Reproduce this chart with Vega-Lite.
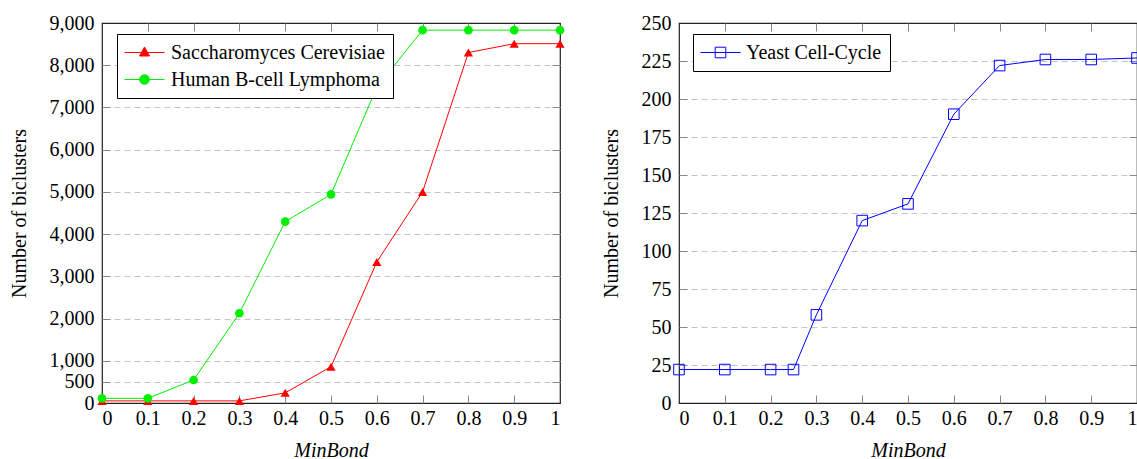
{
  "$schema": "https://vega.github.io/schema/vega-lite/v6.json",
  "background": "white",
  "padding": {"left": 8, "top": 12, "right": 0, "bottom": 0},
  "spacing": 119,
  "bounds": "flush",
  "resolve": {"scale": {"color": "independent"}, "legend": {"color": "independent"}},
  "config": {
    "font": "Liberation Serif",
    "view": {"stroke": "#222", "strokeWidth": 1.2},
    "axis": {
      "labelFont": "Liberation Serif", "labelFontSize": 20, "labelColor": "black",
      "titleFont": "Liberation Serif", "titleFontSize": 20, "titleFontWeight": "normal", "titleColor": "black",
      "tickColor": {"condition": {"test": "datum.value === 0 || datum.value === 1 || datum.value === 9000 || datum.value === 250", "value": "transparent"}, "value": "#888"},
      "tickSize": -8, "domain": false, "grid": false,
      "gridColor": "#c4c4c4", "gridDash": [6, 4], "labelPadding": 16
    },
    "legend": {
      "labelFont": "Liberation Serif", "labelFontSize": 20, "labelColor": "black", "labelLimit": 500,
      "strokeColor": "black", "fillColor": "white", "padding": 8,
      "rowPadding": 6, "symbolOffset": 9, "labelOffset": 16, "symbolSize": 400,
      "orient": "none", "title": null
    }
  },
  "datasets": {
    "left": [
      {"x": 0, "n": 50, "series": "Saccharomyces Cerevisiae"},
      {"x": 0.1, "n": 50, "series": "Saccharomyces Cerevisiae"},
      {"x": 0.2, "n": 50, "series": "Saccharomyces Cerevisiae"},
      {"x": 0.3, "n": 50, "series": "Saccharomyces Cerevisiae"},
      {"x": 0.4, "n": 240, "series": "Saccharomyces Cerevisiae"},
      {"x": 0.5, "n": 860, "series": "Saccharomyces Cerevisiae"},
      {"x": 0.6, "n": 3340, "series": "Saccharomyces Cerevisiae"},
      {"x": 0.7, "n": 5000, "series": "Saccharomyces Cerevisiae"},
      {"x": 0.8, "n": 8300, "series": "Saccharomyces Cerevisiae"},
      {"x": 0.9, "n": 8510, "series": "Saccharomyces Cerevisiae"},
      {"x": 1, "n": 8510, "series": "Saccharomyces Cerevisiae"},
      {"x": 0, "n": 110, "series": "Human B-cell Lymphoma"},
      {"x": 0.1, "n": 110, "series": "Human B-cell Lymphoma"},
      {"x": 0.2, "n": 545, "series": "Human B-cell Lymphoma"},
      {"x": 0.3, "n": 2125, "series": "Human B-cell Lymphoma"},
      {"x": 0.4, "n": 4295, "series": "Human B-cell Lymphoma"},
      {"x": 0.5, "n": 4940, "series": "Human B-cell Lymphoma"},
      {"x": 0.6, "n": 7480, "series": "Human B-cell Lymphoma"},
      {"x": 0.7, "n": 8830, "series": "Human B-cell Lymphoma"},
      {"x": 0.8, "n": 8830, "series": "Human B-cell Lymphoma"},
      {"x": 0.9, "n": 8830, "series": "Human B-cell Lymphoma"},
      {"x": 1, "n": 8830, "series": "Human B-cell Lymphoma"}
    ],
    "right": [
      {"x": 0, "n": 22, "series": "Yeast Cell-Cycle"},
      {"x": 0.1, "n": 22, "series": "Yeast Cell-Cycle"},
      {"x": 0.2, "n": 22, "series": "Yeast Cell-Cycle"},
      {"x": 0.25, "n": 22, "series": "Yeast Cell-Cycle"},
      {"x": 0.3, "n": 58, "series": "Yeast Cell-Cycle"},
      {"x": 0.4, "n": 120, "series": "Yeast Cell-Cycle"},
      {"x": 0.5, "n": 131, "series": "Yeast Cell-Cycle"},
      {"x": 0.6, "n": 190, "series": "Yeast Cell-Cycle"},
      {"x": 0.7, "n": 222, "series": "Yeast Cell-Cycle"},
      {"x": 0.8, "n": 226, "series": "Yeast Cell-Cycle"},
      {"x": 0.9, "n": 226, "series": "Yeast Cell-Cycle"},
      {"x": 1, "n": 227, "series": "Yeast Cell-Cycle"}
    ]
  },
  "hconcat": [
    {
      "width": 458, "height": 380,
      "data": {"name": "left"},
      "resolve": {"axis": {"x": "independent", "y": "independent"}},
      "layer": [
        {
          "mark": {"type": "line", "strokeWidth": 1},
          "encoding": {
            "x": {"field": "x", "type": "quantitative", "scale": {"domain": [0, 1], "nice": false},
              "axis": {"values": [0, 0.1, 0.2, 0.3, 0.4, 0.5, 0.6, 0.7, 0.8, 0.9, 1], "format": "~g", "labelPadding": 13,
                "title": "MinBond", "titleFontStyle": "italic", "titlePadding": 12}},
            "y": {"field": "n", "type": "quantitative", "scale": {"domain": [0, 9000], "nice": false},
              "axis": {"values": [0, 500, 1000, 2000, 3000, 4000, 5000, 6000, 7000, 8000, 9000], "format": ",d",
                "title": "Number of biclusters", "titlePadding": 20}},
            "color": {"field": "series", "type": "nominal",
              "scale": {"domain": ["Saccharomyces Cerevisiae", "Human B-cell Lymphoma"], "range": ["#ff0000", "#00f000"]},
              "legend": {"legendX": 15, "legendY": 11,
                "encode": {"symbols": {"update": {
                  "shape": {"signal": "datum.value === 'Saccharomyces Cerevisiae' ? 'M-2,0L2,0M0,-0.55L0.5,0.35L-0.5,0.35Z' : 'M-2,0L2,0M0.48,0A0.48,0.48,0,1,1,-0.48,0A0.48,0.48,0,1,1,0.48,0Z'"},
                  "fill": {"signal": "datum.value === 'Saccharomyces Cerevisiae' ? '#ff0000' : '#00f000'"},
                  "stroke": {"signal": "datum.value === 'Saccharomyces Cerevisiae' ? '#ff0000' : '#00f000'"},
                  "strokeWidth": {"value": 1},
                  "opacity": {"value": 1},
                  "size": {"value": 400}
                }}}}}
          }
        },
        {
          "transform": [{"filter": "datum.series === 'Saccharomyces Cerevisiae'"}],
          "mark": {"type": "point", "shape": "triangle-up", "filled": true, "opacity": 1, "size": 85, "color": "#ff0000"},
          "encoding": {
            "x": {"field": "x", "type": "quantitative",
              "axis": {"orient": "top", "values": [0.1, 0.2, 0.3, 0.4, 0.5, 0.6, 0.7, 0.8, 0.9], "labels": false, "title": null}},
            "y": {"field": "n", "type": "quantitative",
              "axis": {"orient": "right", "values": [500, 1000, 2000, 3000, 4000, 5000, 6000, 7000, 8000], "labels": false, "grid": true, "title": null}}
          }
        },
        {
          "transform": [{"filter": "datum.series === 'Human B-cell Lymphoma'"}],
          "mark": {"type": "point", "shape": "circle", "filled": true, "opacity": 1, "size": 75, "color": "#00f000"},
          "encoding": {
            "x": {"field": "x", "type": "quantitative", "axis": null},
            "y": {"field": "n", "type": "quantitative", "axis": null}
          }
        }
      ]
    },
    {
      "width": 458, "height": 380,
      "data": {"name": "right"},
      "resolve": {"axis": {"x": "independent", "y": "independent"}},
      "layer": [
        {
          "mark": {"type": "line", "strokeWidth": 1},
          "encoding": {
            "x": {"field": "x", "type": "quantitative", "scale": {"domain": [0, 1], "nice": false},
              "axis": {"values": [0, 0.1, 0.2, 0.3, 0.4, 0.5, 0.6, 0.7, 0.8, 0.9, 1], "format": "~g", "labelPadding": 13,
                "title": "MinBond", "titleFontStyle": "italic", "titlePadding": 12}},
            "y": {"field": "n", "type": "quantitative", "scale": {"domain": [0, 250], "nice": false},
              "axis": {"values": [0, 25, 50, 75, 100, 125, 150, 175, 200, 225, 250],
                "title": "Number of biclusters", "titlePadding": 20}},
            "color": {"field": "series", "type": "nominal",
              "scale": {"domain": ["Yeast Cell-Cycle"], "range": ["#0000ff"]},
              "legend": {"legendX": 14, "legendY": 11, "labelOffset": 15,
                "encode": {"symbols": {"update": {
                  "shape": {"value": "M-2,0L2,0M-0.53,-0.53L0.53,-0.53L0.53,0.53L-0.53,0.53Z"},
                  "fill": {"value": "transparent"},
                  "stroke": {"value": "#0000ff"},
                  "strokeWidth": {"value": 1},
                  "opacity": {"value": 1},
                  "size": {"value": 400}
                }}}}}
          }
        },
        {
          "mark": {"type": "point", "shape": "square", "filled": false, "opacity": 1, "size": 112, "strokeWidth": 1, "color": "#0000ff"},
          "encoding": {
            "x": {"field": "x", "type": "quantitative",
              "axis": {"orient": "top", "values": [0.1, 0.2, 0.3, 0.4, 0.5, 0.6, 0.7, 0.8, 0.9], "labels": false, "title": null}},
            "y": {"field": "n", "type": "quantitative",
              "axis": {"orient": "right", "values": [25, 50, 75, 100, 125, 150, 175, 200, 225], "labels": false, "grid": true, "title": null}}
          }
        }
      ]
    }
  ]
}
